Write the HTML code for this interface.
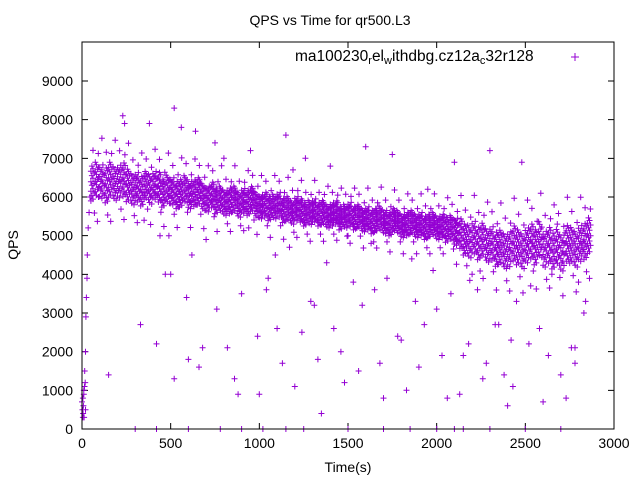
<!DOCTYPE html>
<html><head><meta charset="utf-8">
<style>
body{margin:0;background:#fff;}
svg{display:block;font-family:"Liberation Sans",sans-serif;}
</style></head>
<body>
<svg id="chart" width="640" height="480">
<text x="330" y="25" font-size="14" text-anchor="middle">QPS vs Time for qr500.L3</text>
<text transform="translate(18,245) rotate(-90)" font-size="14" text-anchor="middle">QPS</text>
<text x="348" y="472" font-size="14" text-anchor="middle">Time(s)</text>
<g id="ticks"></g>
<g id="marks"></g>
<rect x="82" y="42" width="532" height="387" fill="none" stroke="#000" stroke-width="1"/>
<g>
<text x="295" y="61" font-size="15.5">ma100230<tspan font-size="11" dy="3">r</tspan><tspan dy="-3">el</tspan><tspan font-size="11" dy="3">w</tspan><tspan dy="-3">ithdbg.cz12a</tspan><tspan font-size="11" dy="3">c</tspan><tspan dy="-3">32r128</tspan></text>
<path d="M571 57h8M575 53v8" stroke="#9400d3" stroke-width="1"/>
</g>
</svg>
<script>
const xTicks=[0,500,1000,1500,2000,2500,3000];
const yTicks=[0,1000,2000,3000,4000,5000,6000,7000,8000,9000];
const bandStart=50, bandStep=25;
const bandMid=[6350,6450,6400,6300,6450,6350,6400,6450,6300,6200,6250,6150,6300,6200,6300,6250,6100,6200,6150,6050,6100,6200,6050,6100,6150,6000,5950,6050,5900,5950,5850,5900,5950,5800,5900,5850,5950,5800,5750,5800,5700,5750,5800,5650,5700,5600,5700,5650,5550,5600,5650,5550,5600,5500,5550,5600,5450,5500,5550,5450,5500,5400,5450,5350,5400,5450,5350,5300,5400,5350,5250,5300,5350,5250,5300,5200,5250,5300,5200,5250,5150,5200,5100,5050,4900,4850,4950,4800,4900,4750,4800,4650,4700,4600,4650,4800,4700,4600,4750,4850,4700,4900,4650,4750,4600,4700,4550,4800,4750,4650,4800,4850,5000];
const bandSpread=[450,450,430,450,450,430,420,430,420,400,380,380,360,380,360,380,360,360,350,350,350,350,350,340,350,340,330,330,330,330,320,330,330,320,320,320,320,320,310,320,310,310,320,310,310,300,310,300,300,310,300,300,310,300,300,300,300,300,310,300,300,300,300,300,300,310,300,300,300,300,300,300,300,300,300,300,300,300,300,300,320,320,350,380,400,420,420,420,420,430,430,440,440,450,450,450,450,450,450,450,450,460,460,460,460,460,460,460,460,460,460,460,460];
const outT=[0,3,5,6,8,10,12,14,15,18,20,22,25,28,30,35,40,45,5,10,20,25,230,240,380,420,440,520,500,560,600,640,700,660,750,820,860,900,950,1000,1050,1100,1150,1170,1200,1260,1310,1350,1400,1460,1500,1560,1600,1650,1700,1750,1800,1860,1900,1950,2000,2060,2100,2150,2200,2260,2300,2350,2400,2450,2480,2520,2560,2600,2650,2700,2760,2800,2830,150,330,350,470,490,520,590,620,680,760,800,880,940,990,1040,1090,1130,1190,1240,1290,1330,1380,1420,1480,1530,1580,1630,1680,1720,1780,1830,1880,1930,1980,2030,2080,2130,2180,2230,2280,2330,2380,2430,2530,2580,2630,2680,2730,2780,2820,300,420,600,780,900,1020,1150,1250,1500,1700,1850,2000,2100,2150,2300,2500,2700,2420,2540,2780,2840];
const outQ=[700,500,800,400,600,900,300,1100,1500,1200,2000,2900,3400,3900,4500,5200,5600,6000,300,1000,500,3400,8100,7900,7900,2200,5000,8300,4000,7800,1800,7700,4900,1600,7400,2100,1300,3500,7200,900,3900,2600,7600,4700,1100,7000,3200,400,6800,2000,5000,1500,7300,3600,800,7100,2300,4400,1600,6200,3100,800,6900,1900,4000,1300,7200,2700,600,3300,6900,2200,5100,700,4000,1400,2100,3800,3000,1400,2700,5400,4000,5000,1300,3400,4500,2100,3100,7000,900,5200,2400,3600,4500,1700,6700,2500,3300,1800,4300,2600,1200,3800,3200,4800,1700,3900,2400,1000,3300,2700,4100,1900,3500,900,2200,3600,1700,2700,1400,1100,3700,2600,1900,5300,800,2100,4700,0,0,0,0,0,0,0,0,0,0,0,0,0,0,0,0,0,2300,4800,1700,3300];
const X0=82,X1=614,Y0=429,Y1=81;
function xs(t){return X0+(X1-X0)*t/3000;}
function ys(q){return Y0-(Y0-Y1)*q/9000;}
const NS="http://www.w3.org/2000/svg";
const tk=document.getElementById('ticks');
let tp="";
xTicks.forEach(v=>{const x=xs(v);tp+=`M${x} 429v-6M${x} 42v6`;
 const t=document.createElementNS(NS,'text');t.setAttribute('x',x);t.setAttribute('y',448);t.setAttribute('font-size','14');t.setAttribute('text-anchor','middle');t.textContent=v;
 
 
 tk.appendChild(t);});
yTicks.forEach(v=>{const y=ys(v);tp+=`M82 ${y}h6M614 ${y}h-6`;
 const t=document.createElementNS(NS,'text');t.setAttribute('x',73);t.setAttribute('y',y+5);t.setAttribute('font-size','14');t.setAttribute('text-anchor','end');t.textContent=v;
 
 
 tk.appendChild(t);});
const tpath=document.createElementNS(NS,'path');tpath.setAttribute('d',tp);tpath.setAttribute('stroke','#000');


tk.appendChild(tpath);
let d="";
function plus(t,q){const x=xs(t),y=ys(q);d+=`M${(x-3).toFixed(1)} ${y.toFixed(1)}h6M${x.toFixed(1)} ${(y-3).toFixed(1)}v6`;}
const fr=[[-1,-0.45,0.1,0.7],[-0.7,-0.1,0.45,1],[-0.9,-0.3,0.3,0.85],[-0.55,0,0.6]];
bandMid.forEach((m,i)=>{const s=bandSpread[i];
 for(let k=0;k<4;k++){const t=bandStart+i*bandStep+k*6;
  fr[(i+k)%4].forEach(f=>plus(t,m+f*s));}
 const t2=bandStart+i*bandStep+12;
 if(i%3===0){plus(t2,m+s*1.9);plus(t2+8,m-s*1.7);}
 if(i%3===1){plus(t2,m-s*2.4);plus(t2+5,m+s*1.5);}
 if(i%3===2){plus(t2,m+s*2.6);}
});
outT.forEach((t,i)=>plus(t,outQ[i]));
const mp=document.createElementNS(NS,'path');mp.setAttribute('d',d);mp.setAttribute('stroke','#9400d3');mp.setAttribute('stroke-width','1');mp.setAttribute('fill','none');


document.getElementById('marks').appendChild(mp);
</script>
</body></html>
